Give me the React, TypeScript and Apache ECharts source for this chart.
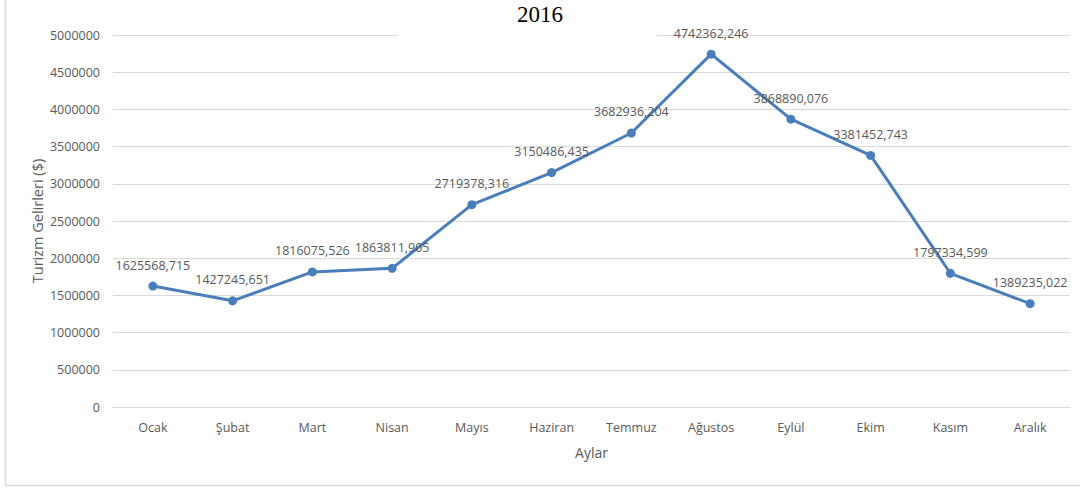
import React, { useEffect, useRef } from "react";
import * as echarts from "echarts";

const title = "2016";
const months = ["Ocak", "Şubat", "Mart", "Nisan", "Mayıs", "Haziran", "Temmuz", "Ağustos", "Eylül", "Ekim", "Kasım", "Aralık"];
const revenues = [1625568.715, 1427245.651, 1816075.526, 1863811.905, 2719378.316, 3150486.435, 3682936.204, 4742362.246, 3868890.076, 3381452.743, 1797334.599, 1389235.022];
const yAxisName = "Turizm Gelirleri ($)";
const xAxisName = "Aylar";

const FONT = "'Open Sans', sans-serif";
const GRAY = "#595959";

export default function App() {
  const ref = useRef<HTMLDivElement>(null);
  useEffect(() => {
    if (!ref.current) return;
    const chart = echarts.init(ref.current, null, { renderer: "svg" });
    chart.setOption({
      animation: false,
      backgroundColor: "#ffffff",
      title: {
        text: title,
        left: "center",
        top: -2,
        textStyle: { fontFamily: "'Liberation Serif', 'Times New Roman', serif", fontSize: 23, fontWeight: "normal", color: "#000000" },
      },
      graphic: [
        { type: "rect", z: 1, shape: { x: 398, y: 28, width: 259, height: 14 }, style: { fill: "#ffffff" } },
        { type: "rect", z: 1, shape: { x: 5.5, y: -5, width: 1090, height: 490.5 }, style: { fill: "none", stroke: "#d9d9d9", lineWidth: 1.5 } },
      ],
      grid: { left: 113, right: 10, top: 35, bottom: 81 },
      xAxis: {
        type: "category",
        data: months,
        boundaryGap: true,
        name: xAxisName,
        nameLocation: "middle",
        nameGap: 38,
        nameMoveOverlap: false,
        nameTextStyle: { fontFamily: FONT, fontSize: 14, color: GRAY },
        axisLine: { show: true, lineStyle: { color: "#d9d9d9", width: 1 } },
        axisTick: { show: false },
        axisLabel: { fontFamily: FONT, fontSize: 12.5, color: GRAY, margin: 14 },
      },
      yAxis: {
        type: "value",
        min: 0,
        max: 5000000,
        interval: 500000,
        name: yAxisName,
        nameLocation: "middle",
        nameGap: 68,
        nameMoveOverlap: false,
        nameRotate: 90,
        nameTextStyle: { fontFamily: FONT, fontSize: 14.5, color: GRAY },
        axisLine: { show: false },
        axisTick: { show: false },
        axisLabel: { fontFamily: FONT, fontSize: 12.5, color: GRAY, margin: 13, formatter: (v: number) => String(v) },
        splitLine: { lineStyle: { color: "#d9d9d9", width: 1 } },
      },
      series: [
        {
          type: "line",
          data: revenues,
          symbol: "circle",
          symbolSize: 9,
          lineStyle: { color: "#4a7ebb", width: 3 },
          itemStyle: { color: "#4a7ebb" },
          label: {
            show: true,
            position: "top",
            distance: 10,
            fontFamily: FONT,
            fontSize: 12.5,
            color: GRAY,
            formatter: (p: any) => Number(p.value).toFixed(3).replace(".", ","),
          },
        },
      ],
    });
    return () => chart.dispose();
  }, []);
  return <div ref={ref} style={{ position: "fixed", left: 0, top: 0, width: 1080, height: 488 }} />;
}
